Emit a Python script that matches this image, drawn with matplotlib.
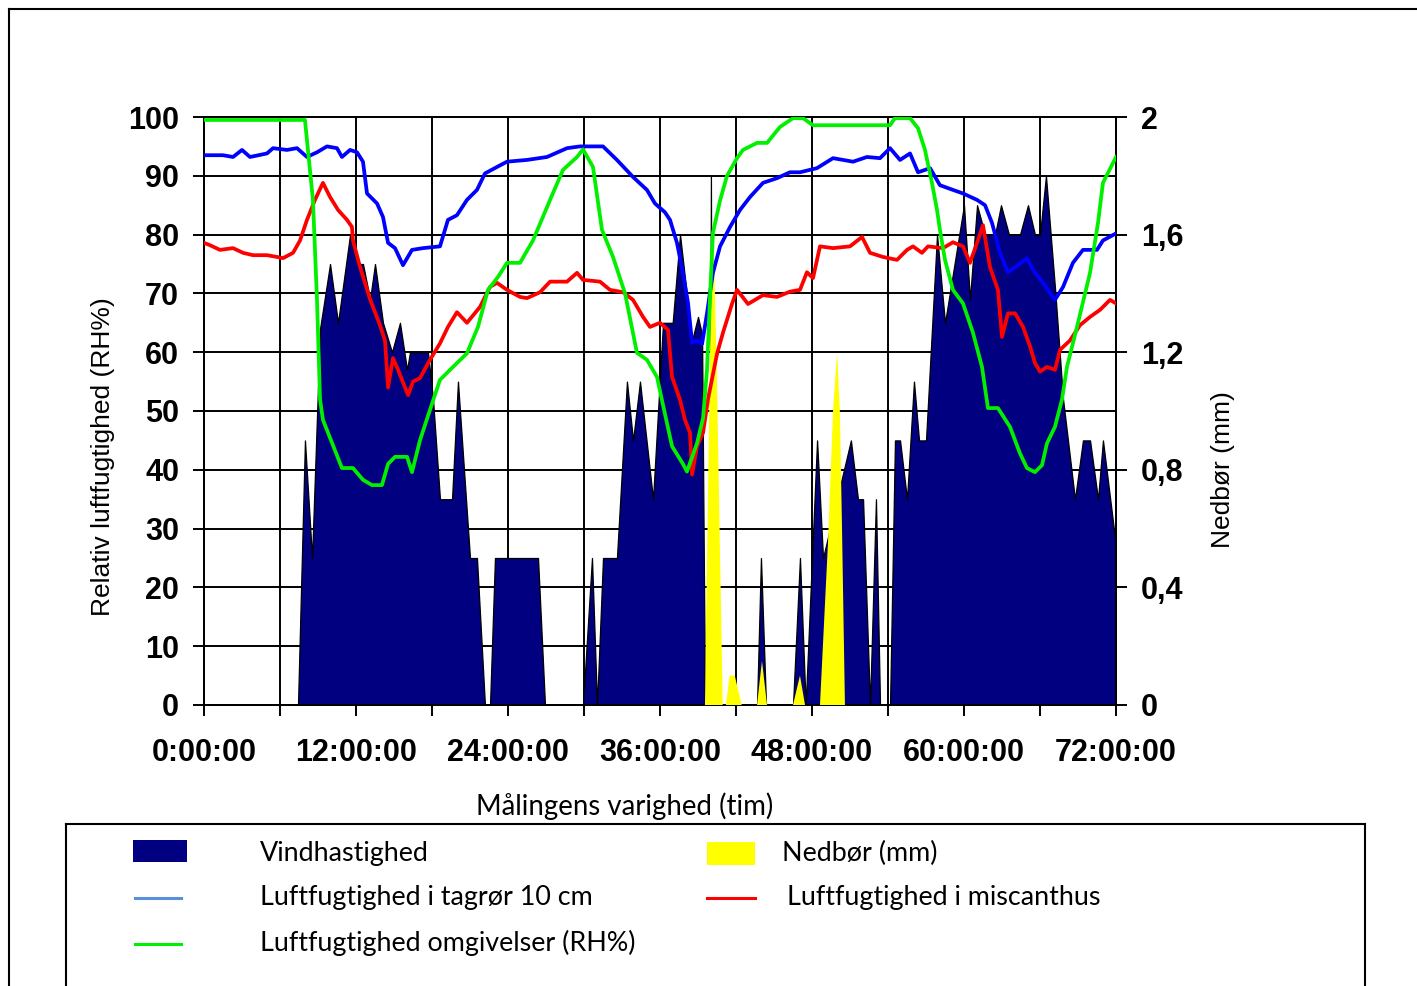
import matplotlib
matplotlib.use('Agg')
import matplotlib.pyplot as plt
from matplotlib.patches import Rectangle
from matplotlib.lines import Line2D
from matplotlib.ticker import FixedLocator, FuncFormatter

# ---------------- data (time in hours) ----------------
wind_t = [0.00, 7.42, 7.97, 8.53, 9.16, 9.95, 10.58, 11.53, 12.08, 12.55, 13.11, 13.50,
          14.13, 14.84, 15.47, 16.03, 16.26, 17.68, 18.08, 18.63, 19.58, 20.05, 21.00,
          21.55, 22.18, 22.58, 22.97, 26.37, 26.92, 29.92, 30.63, 31.03, 31.50, 32.60,
          33.39, 33.87, 34.42, 35.45, 36.24, 37.00, 37.58, 38.53, 39.00, 39.32, 39.55,
          39.90, 40.02, 40.14, 43.66, 43.97, 44.37, 46.50, 47.05, 47.50, 48.40, 48.87,
          51.07, 51.63, 52.03, 52.58, 53.05, 53.37, 54.16, 54.55, 54.95, 55.50, 56.05,
          56.45, 57.00, 57.87, 58.50, 60.00, 60.47, 61.03, 61.66, 62.45, 62.92, 63.55,
          64.42, 65.05, 65.60, 66.00, 66.47, 67.18, 67.82, 68.76, 69.39, 69.95, 70.58,
          70.97, 72.00]
wind_v = [0, 0, 45, 25, 64, 75, 65, 80, 75, 75, 69, 75,
          65, 60, 65, 57, 60, 60, 52, 35, 35, 55, 25,
          25, 0, 0, 25, 25, 0, 0, 25, 0, 25, 25,
          55, 45, 55, 35, 65, 65, 80, 62, 66, 63, 0,
          0, 90, 0, 0, 25, 0, 0, 25, 0, 45, 25,
          45, 35, 35, 0, 35, 0, 0, 45, 45, 35, 55,
          45, 45, 80, 65, 85, 69, 85, 80, 80, 85, 80,
          80, 85, 80, 80, 90, 71, 52, 35, 45, 45, 35,
          45, 27]

rain_t = [0.0, 39.55, 39.95, 40.20, 40.50, 40.95, 41.20, 41.50, 41.90, 42.45,
          43.66, 44.05, 44.45, 46.50, 47.05, 47.45, 48.63, 49.26, 49.66, 49.98,
          50.20, 50.37, 50.60, 72.0]
rain_v = [0, 0, 1.2, 1.65, 1.1, 0, 0, 0.1, 0.1, 0,
          0, 0.15, 0, 0, 0.1, 0, 0, 0.55, 1.0, 1.2,
          1.0, 0.6, 0, 0]

tag_t = [0.00, 1.50, 2.29, 3.00, 3.63, 4.97, 5.45, 6.55, 7.34, 8.13, 8.92, 9.71, 10.50,
         10.89, 11.53, 12.08, 12.55, 12.87, 13.66, 14.13, 14.53, 15.08, 15.71, 16.42,
         17.29, 18.63, 19.26, 19.97, 20.76, 21.55, 22.18, 23.13, 23.92, 25.50, 27.08,
         28.66, 29.68, 31.50, 32.60, 33.87, 34.97, 35.60, 36.39, 36.79, 37.34, 37.81,
         38.21, 38.53, 38.92, 39.32, 39.71, 40.18, 40.74, 41.53, 42.32, 43.11, 44.13,
         45.24, 46.26, 47.05, 48.39, 49.66, 51.24, 52.34, 53.37, 54.16, 54.95, 55.74,
         56.37, 57.32, 58.10, 59.13, 59.92, 61.03, 61.66, 62.21, 62.84, 63.47, 64.26,
         64.97, 65.45, 66.16, 67.18, 67.82, 68.60, 69.39, 70.50, 70.97, 72.00]
tag_v = [93.5, 93.5, 93.2, 94.4, 93.2, 93.8, 94.7, 94.4, 94.7, 93.2, 94.0, 95.0, 94.7,
         93.2, 94.4, 94.0, 92.4, 87.0, 85.3, 83.0, 78.6, 77.7, 74.8, 77.4,
         77.7, 78.0, 82.5, 83.3, 85.9, 87.6, 90.4, 91.5, 92.4, 92.7, 93.2,
         94.7, 95.0, 95.0, 92.7, 89.8, 87.6, 85.3, 83.8, 82.5, 78.6, 73.5,
         68.4, 61.6, 62.0, 61.4, 66.6, 73.5, 78.0, 81.3, 84.2, 86.4, 88.8,
         89.6, 90.6, 90.6, 91.3, 93.0, 92.4, 93.2, 93.0, 94.7, 92.7, 93.8,
         90.6, 91.3, 88.4, 87.6, 87.0, 85.9, 85.0, 82.0, 76.9, 73.6, 74.8,
         76.0, 74.0, 72.0, 68.9, 71.1, 75.2, 77.4, 77.4, 79.0, 80.2]

misc_t = [0.00, 0.47, 1.26, 2.29, 3.08, 3.87, 4.97, 5.76, 6.24, 7.03, 7.58, 8.13, 8.76,
          9.39, 9.95, 10.58, 11.29, 11.68, 11.76, 12.32, 13.11, 13.89, 14.29, 14.53,
          14.92, 15.32, 16.11, 16.50, 17.05, 17.84, 18.63, 19.26, 19.97, 20.76, 21.79,
          22.58, 23.13, 23.92, 24.95, 25.50, 26.53, 27.32, 28.66, 29.45, 29.92, 31.26,
          32.05, 33.08, 33.87, 34.66, 35.21, 36.00, 36.63, 36.95, 37.58, 37.97, 38.37,
          38.53, 38.92, 39.40, 39.79, 40.50, 40.97, 41.68, 42.08, 42.95, 44.13, 45.24,
          46.26, 47.05, 47.60, 48.08, 48.63, 49.66, 51.00, 51.95, 52.58, 53.60, 54.71,
          55.50, 55.97, 56.68, 57.16, 58.34, 59.13, 59.92, 60.47, 61.03, 61.50, 62.05,
          62.68, 63.00, 63.47, 64.03, 64.66, 65.21, 65.60, 66.00, 66.55, 67.18, 67.58,
          68.37, 69.16, 69.95, 70.74, 71.53, 72.00]
misc_v = [78.6, 78.2, 77.4, 77.7, 76.9, 76.5, 76.5, 76.2, 76.0, 76.9, 79.0, 82.5, 85.9,
          88.8, 86.4, 84.2, 82.5, 81.3, 79.0, 74.5, 69.0, 64.6, 62.0, 54.0,
          59.0, 57.0, 52.7, 55.0, 55.6, 58.7, 61.5, 64.3, 66.8, 65.0, 67.7,
          71.1, 71.8, 70.6, 69.4, 69.2, 70.2, 72.0, 72.0, 73.5, 72.3, 72.0,
          70.6, 70.2, 68.9, 66.0, 64.3, 65.0, 63.8, 55.8, 51.9, 48.5, 46.3,
          39.2, 44.0, 46.3, 52.0, 59.7, 63.3, 68.2, 70.6, 68.2, 69.7, 69.4,
          70.3, 70.6, 73.6, 72.6, 78.0, 77.7, 78.0, 79.6, 76.9, 76.2, 75.7,
          77.4, 78.0, 76.9, 78.0, 77.7, 78.7, 78.0, 75.2, 78.6, 81.6, 74.5,
          70.6, 62.6, 66.6, 66.6, 64.3, 61.0, 58.2, 56.7, 57.5, 57.0, 60.4,
          62.0, 64.6, 66.0, 67.2, 68.9, 68.3]

omg_t = [0.00, 7.97, 8.60, 8.92, 9.16, 9.39, 10.89, 11.76, 12.55, 13.26, 14.05, 14.53,
         15.08, 16.03, 16.42, 17.05, 17.84, 18.63, 19.66, 20.76, 21.63, 22.42, 23.21,
         23.92, 24.95, 25.97, 27.32, 28.34, 29.45, 29.92, 30.71, 31.42, 32.29, 33.24,
         34.18, 34.97, 35.76, 36.24, 36.95, 37.81, 38.13, 38.92, 39.40, 39.71, 39.95,
         40.18, 40.74, 41.29, 42.08, 42.55, 43.66, 44.45, 45.47, 46.50, 47.29, 48.08,
         54.16, 54.55, 55.74, 56.37, 56.92, 57.47, 57.87, 58.10, 58.50, 59.13, 59.92,
         60.71, 61.42, 61.89, 62.68, 63.63, 64.42, 64.97, 65.60, 66.16, 66.55, 67.18,
         67.74, 68.13, 68.92, 69.95, 70.58, 70.97, 72.00]
omg_v = [99.5, 99.5, 85.9, 69.0, 52.0, 48.5, 40.3, 40.3, 38.3, 37.4, 37.4, 41.0,
         42.2, 42.2, 39.6, 45.0, 50.2, 55.3, 57.5, 59.8, 64.3, 70.6, 72.8,
         75.2, 75.2, 79.0, 85.9, 91.0, 93.2, 94.5, 91.5, 80.8, 76.2, 70.0,
         59.9, 58.7, 55.8, 51.0, 44.0, 41.0, 39.7, 44.5, 48.8, 57.0, 69.4,
         80.3, 85.8, 90.0, 93.0, 94.4, 95.6, 95.6, 98.3, 99.8, 99.8, 98.6,
         98.6, 99.8, 99.8, 98.1, 94.4, 88.8, 84.2, 80.8, 75.7, 70.6, 68.3,
         63.3, 57.5, 50.5, 50.5, 47.3, 42.8, 40.3, 39.6, 40.8, 44.5, 47.3,
         52.0, 57.5, 64.3, 73.5, 82.0, 88.8, 93.2]

x_ticks = [0, 6, 12, 18, 24, 30, 36, 42, 48, 54, 60, 66, 72]
y_ticks = [0, 10, 20, 30, 40, 50, 60, 70, 80, 90, 100]
rain_ticks = [0, 0.4, 0.8, 1.2, 1.6, 2.0]
rain_labels = ['0', '0,4', '0,8', '1,2', '1,6', '2']

labels = {
    'wind': 'Vindhastighed',
    'rain': 'Nedbør (mm)',
    'tag': 'Luftfugtighed i tagrør 10 cm',
    'misc': 'Luftfugtighed i miscanthus',
    'omg': 'Luftfugtighed omgivelser (RH%)',
}

# ---------------- figure ----------------
W, H, DPI = 1417, 986, 100
fig = plt.figure(figsize=(W / DPI, H / DPI), dpi=DPI)
fig.patch.set_facecolor('white')


def fx(x):
    return x / W


def fy(y):
    return 1 - y / H


NAVY = '#000080'
YELLOW = '#ffff00'
BLUE = '#0000ff'
RED = '#ff0000'
GREEN = '#00f000'

tick_font = dict(family='Liberation Sans', weight='bold', size=22)

ax = fig.add_axes([fx(204), fy(705), fx(1116) - fx(204), fy(117) - fy(705)])
ax.fill_between(wind_t, wind_v, 0, facecolor=NAVY, edgecolor='black',
                linewidth=0.9, zorder=2)
ax.set_xlim(0, 72)
ax.set_ylim(0, 100)
ax.set_axisbelow(True)
ax.grid(True, color='black', linewidth=1.4)
ax.xaxis.set_major_locator(FixedLocator(x_ticks))
ax.xaxis.set_major_formatter(FuncFormatter(
    lambda v, p: f'{int(round(v))}:00:00' if int(round(v)) % 12 == 0 else ''))
ax.yaxis.set_major_locator(FixedLocator(y_ticks))
ax.tick_params(axis='both', direction='out', length=8, width=1.4, color='black')
ax.tick_params(axis='y', pad=10)
ax.tick_params(axis='x', pad=16)
for lab in ax.get_xticklabels() + ax.get_yticklabels():
    lab.set_fontproperties(tick_font)
for sp in ax.spines.values():
    sp.set_color('black')
    sp.set_linewidth(1.4)

yl = ax.set_ylabel('Relativ luftfugtighed (RH%)', family='Liberation Sans', fontsize=19)
ax.yaxis.set_label_coords((103 - 204) / 912, (705 - 457) / 588)
yl.set_va('center')
yl.set_ha('center')
xl = ax.set_xlabel('Målingens varighed (tim)', family='Lato', fontsize=19.9)
ax.xaxis.set_label_coords((625 - 204) / 912, (705 - 806) / 588)
xl.set_va('center')

# rain on right axis
ax2 = ax.twinx()
ax2.fill_between(rain_t, rain_v, 0, facecolor=YELLOW, edgecolor='none', zorder=3)
ax2.set_ylim(0, 2)
ax2.set_yticks(rain_ticks)
ax2.set_yticklabels(rain_labels)
ax2.tick_params(axis='y', direction='out', length=8, width=1.4, color='black', pad=10)
for lab in ax2.get_yticklabels():
    lab.set_fontproperties(tick_font)
for sp in ax2.spines.values():
    sp.set_color('black')
    sp.set_linewidth(1.4)
rl = ax2.set_ylabel('Nedbør (mm)', family='Liberation Sans', fontsize=19)
ax2.yaxis.set_label_coords((1223 - 204) / 912, (705 - 470) / 588)
rl.set_va('center')
rl.set_ha('center')
rl.set_rotation(90)

# humidity lines on top
ax3 = ax.twinx()
ax3.set_ylim(0, 100)
ax3.set_xlim(0, 72)
ax3.set_axis_off()
ax3.plot(tag_t, tag_v, color=BLUE, linewidth=2.7, solid_joinstyle='round')
ax3.plot(misc_t, misc_v, color=RED, linewidth=2.7, solid_joinstyle='round')
ax3.plot(omg_t, omg_v, color=GREEN, linewidth=2.7, solid_joinstyle='round')

# outer frame
fig.add_artist(Line2D([fx(9), fx(9)], [fy(9), fy(H + 5)], color='black', linewidth=1.5))
fig.add_artist(Line2D([fx(9), fx(W + 5)], [fy(9), fy(9)], color='black', linewidth=1.5))

# legend box
fig.add_artist(Line2D([fx(66), fx(1365)], [fy(824), fy(824)], color='black', linewidth=1.5))
fig.add_artist(Line2D([fx(66), fx(66)], [fy(824), fy(H + 5)], color='black', linewidth=1.5))
fig.add_artist(Line2D([fx(1365), fx(1365)], [fy(824), fy(H + 5)], color='black', linewidth=1.5))

leg_font = dict(family='Lato', fontsize=19.4, va='center', ha='left')
fig.add_artist(Rectangle((fx(133), fy(862)), 54 / W, 22 / H, facecolor=NAVY, edgecolor='none'))
fig.text(fx(260), fy(853), labels['wind'], **leg_font)
fig.add_artist(Line2D([fx(135), fx(181)], [fy(898), fy(898)], color='#5b8fd9', linewidth=2.2))
fig.text(fx(260), fy(898), labels['tag'], **leg_font)
fig.add_artist(Line2D([fx(135), fx(181)], [fy(944), fy(944)], color=GREEN, linewidth=2.2))
fig.text(fx(260), fy(943), labels['omg'], **leg_font)
fig.add_artist(Rectangle((fx(707), fy(865)), 48 / W, 23 / H, facecolor=YELLOW, edgecolor='none'))
fig.text(fx(782), fy(853), labels['rain'], **leg_font)
fig.add_artist(Line2D([fx(707), fx(755)], [fy(898), fy(898)], color=RED, linewidth=2.2))
fig.text(fx(787), fy(898), labels['misc'], **leg_font)

fig.savefig('out.png', dpi=DPI, facecolor='white')
